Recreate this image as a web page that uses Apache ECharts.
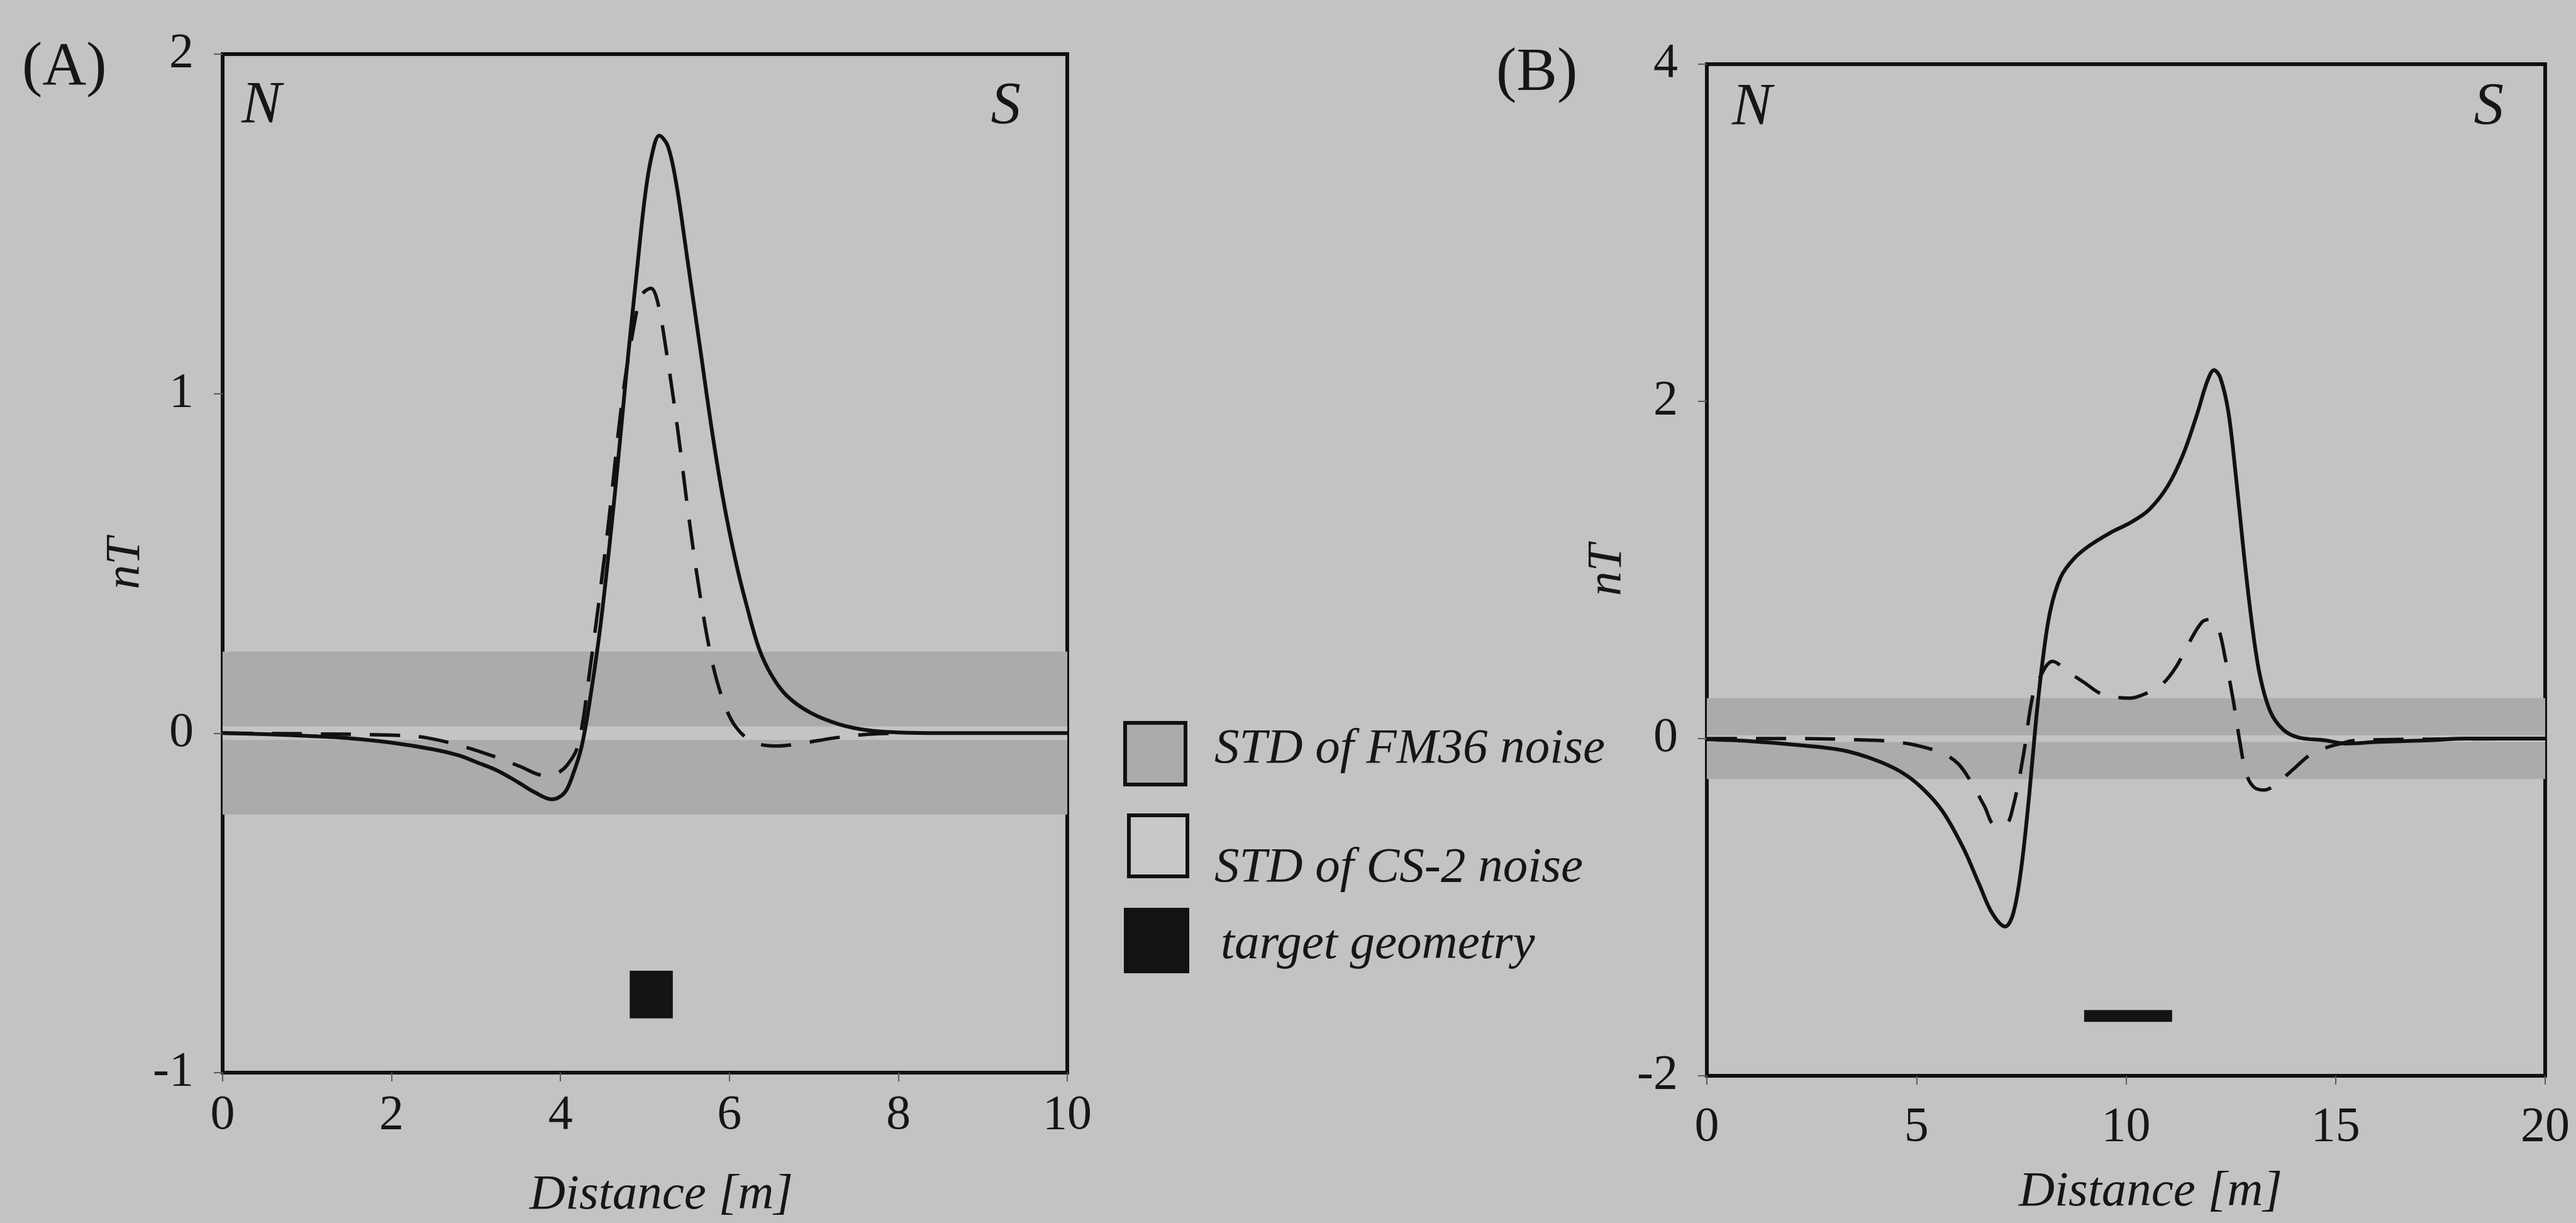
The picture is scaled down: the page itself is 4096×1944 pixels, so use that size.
<!DOCTYPE html>
<html>
<head>
<meta charset="utf-8">
<script src="https://cdn.jsdelivr.net/npm/echarts@6/dist/echarts.min.js"></script>
<style>
html, body { margin: 0; padding: 0; background: #c3c3c3; }
#chart { width: 4096px; height: 1944px; }
</style>
</head>
<body>
<div id="chart"></div>
<script>
// (A) 10 m profile - solid / dashed response
var aSolidX = [0, 0.5, 1.0, 1.5, 2.0, 2.5, 2.8, 3.0, 3.25, 3.5, 3.7, 3.9, 4.05, 4.15, 4.25, 4.35, 4.48, 4.65, 4.78, 4.9, 5.0, 5.08, 5.17, 5.27, 5.37, 5.5, 5.65, 5.8, 5.94, 6.08, 6.2, 6.35, 6.5, 6.68, 6.96, 7.3, 7.65, 8.0, 8.5, 10];
var aSolidY = [0, -0.003, -0.008, -0.015, -0.028, -0.048, -0.066, -0.085, -0.11, -0.145, -0.175, -0.195, -0.175, -0.12, -0.04, 0.1, 0.33, 0.72, 1.06, 1.35, 1.58, 1.7, 1.76, 1.73, 1.62, 1.4, 1.14, 0.88, 0.67, 0.5, 0.38, 0.25, 0.17, 0.11, 0.06, 0.026, 0.008, 0.002, 0, 0];
var aDashX = [0, 1, 2, 2.42, 2.9, 3.25, 3.52, 3.8, 3.94, 4.08, 4.21, 4.35, 4.56, 4.73, 4.87, 4.96, 5.07, 5.15, 5.25, 5.39, 5.52, 5.66, 5.8, 5.94, 6.08, 6.28, 6.56, 6.83, 7.25, 7.66, 8.0];
var aDashY = [0, -0.002, -0.006, -0.014, -0.043, -0.072, -0.098, -0.124, -0.12, -0.094, -0.034, 0.19, 0.6, 0.98, 1.2, 1.29, 1.31, 1.27, 1.13, 0.89, 0.635, 0.395, 0.206, 0.086, 0.017, -0.026, -0.038, -0.031, -0.014, -0.003, 0];

// (B) 20 m profile
var bSolidX = [0, 1, 2.25, 3.25, 4.0, 4.62, 5.12, 5.62, 6.12, 6.5, 6.81, 7.12, 7.31, 7.5, 7.69, 7.85, 8.0, 8.19, 8.44, 8.75, 9.12, 9.62, 10.12, 10.56, 11.0, 11.37, 11.69, 11.94, 12.1, 12.25, 12.44, 12.62, 12.81, 13.0, 13.19, 13.44, 13.75, 14.12, 14.75, 15.25, 16, 17.25, 18.1, 20];
var bSolidY = [-0.005, -0.015, -0.04, -0.07, -0.125, -0.196, -0.29, -0.43, -0.65, -0.866, -1.037, -1.115, -1.037, -0.77, -0.336, 0.1, 0.44, 0.754, 0.956, 1.065, 1.143, 1.22, 1.283, 1.36, 1.5, 1.69, 1.92, 2.12, 2.186, 2.14, 1.94, 1.56, 1.1, 0.69, 0.38, 0.162, 0.053, 0.006, -0.01, -0.03, -0.02, -0.01, 0, 0];
var bDashX = [0, 2, 4, 4.5, 5.0, 5.62, 6.0, 6.31, 6.62, 6.87, 7.12, 7.31, 7.56, 7.75, 7.9, 8.25, 8.62, 9.0, 9.37, 9.75, 10.1, 10.5, 10.87, 11.2, 11.5, 11.81, 12.0, 12.19, 12.37, 12.56, 12.72, 12.87, 13.06, 13.31, 13.62, 14.0, 14.37, 14.75, 15.12, 15.5, 20];
var bDashY = [0, 0, -0.01, -0.02, -0.04, -0.087, -0.15, -0.26, -0.4, -0.51, -0.51, -0.4, -0.087, 0.224, 0.34, 0.458, 0.395, 0.333, 0.27, 0.246, 0.24, 0.27, 0.324, 0.427, 0.567, 0.69, 0.707, 0.66, 0.473, 0.224, -0.025, -0.21, -0.29, -0.305, -0.26, -0.18, -0.1, -0.056, -0.03, -0.01, 0];

// noise levels (nT) and target extents [x0, x1, y0, y1]
var fm36Band = [-0.24, 0.24];
var cs2Band = [-0.02, 0.02];
var aTarget = [4.82, 5.33, -0.84, -0.70];
var bTarget = [9.0, 11.1, -1.68, -1.61];

var legendNames = ['STD of FM36 noise', 'STD of CS-2 noise', 'target geometry'];

var SERIF = '"Liberation Serif", "Times New Roman", serif';
var INK = '#161616';

function pairs(xs, ys) {
	return xs.map(function (x, i) { return [x, ys[i]]; });
}

function rectItem(params, api) {
	var p0 = api.coord([api.value(0), api.value(3)]);
	var p1 = api.coord([api.value(1), api.value(2)]);
	return {
		type: 'rect',
		shape: { x: p0[0], y: p0[1], width: p1[0] - p0[0], height: p1[1] - p0[1] },
		style: api.style()
	};
}

function xAxisOf(idx, max, step, margin, gap, shift) {
	return {
		type: 'value', gridIndex: idx, min: 0, max: max, interval: step,
		axisLine: { show: false, onZero: false },
		axisTick: { show: true, length: 14, lineStyle: { color: '#5a5a5a', width: 2 } },
		axisLabel: { margin: margin, fontSize: 78, fontFamily: SERIF, color: INK },
		splitLine: { show: false },
		name: 'Distance [m]', nameLocation: 'middle', nameGap: gap,
		nameTextStyle: { fontSize: 79, fontFamily: SERIF, fontStyle: 'italic', color: INK, padding: [0, 0, 0, shift] }
	};
}

function yAxisOf(idx, min, max, step, gap) {
	return {
		type: 'value', gridIndex: idx, min: min, max: max, interval: step,
		axisLine: { show: false, onZero: false },
		axisTick: { show: true, length: 14, lineStyle: { color: '#5a5a5a', width: 2 } },
		axisLabel: { margin: 46, fontSize: 78, fontFamily: SERIF, color: INK },
		splitLine: { show: false },
		name: 'nT', nameLocation: 'middle', nameGap: gap, nameRotate: 90,
		nameTextStyle: { fontSize: 78, fontFamily: SERIF, fontStyle: 'italic', color: INK }
	};
}

function bandSeries(idx, band, xmax, color) {
	return {
		type: 'custom', xAxisIndex: idx, yAxisIndex: idx, z: 1, silent: true, clip: true,
		itemStyle: { color: color },
		data: [[0, xmax, band[0], band[1]]],
		renderItem: rectItem
	};
}

function targetSeries(idx, t) {
	return {
		type: 'custom', xAxisIndex: idx, yAxisIndex: idx, z: 2, silent: true,
		itemStyle: { color: '#141414' },
		data: [t],
		renderItem: rectItem
	};
}

function lineSeries(idx, xs, ys, dashed) {
	return {
		type: 'line', xAxisIndex: idx, yAxisIndex: idx, z: dashed ? 3 : 4,
		showSymbol: false, symbol: 'none', silent: true,
		smooth: 0.35,
		lineStyle: { color: '#111', width: dashed ? 5.5 : 6, type: dashed ? [48, 30] : 'solid', cap: 'butt', join: 'round' },
		data: pairs(xs, ys)
	};
}

function label(text, x, y, size, italic, align) {
	return {
		type: 'text', x: x, y: y, silent: true,
		style: {
			text: text, fill: INK, fontSize: size, fontFamily: SERIF,
			fontStyle: italic ? 'italic' : 'normal',
			align: align || 'left', verticalAlign: 'middle'
		}
	};
}

function box(x, y, w, h, fill) {
	return {
		type: 'rect', silent: true,
		shape: { x: x, y: y, width: w, height: h },
		style: { fill: fill, stroke: '#111', lineWidth: 6 }
	};
}

var chart = echarts.init(document.getElementById('chart'), null, { renderer: 'canvas' });

chart.setOption({
	animation: false,
	backgroundColor: '#c3c3c3',
	grid: [
		{ left: 354, top: 86, width: 1343, height: 1619, show: true, borderColor: '#111', borderWidth: 6, backgroundColor: 'transparent', containLabel: false, outerBoundsMode: 'none' },
		{ left: 2714, top: 102, width: 1333, height: 1608, show: true, borderColor: '#111', borderWidth: 6, backgroundColor: 'transparent', containLabel: false, outerBoundsMode: 'none' }
	],
	xAxis: [
		xAxisOf(0, 10, 2, 30, 156, 52),
		xAxisOf(1, 20, 5, 44, 146, 78)
	],
	yAxis: [
		yAxisOf(0, -1, 2, 1, 109),
		yAxisOf(1, -2, 4, 2, 119)
	],
	series: [
		bandSeries(0, fm36Band, 10, '#ababab'),
		bandSeries(0, cs2Band, 10, '#c4c4c4'),
		targetSeries(0, aTarget),
		lineSeries(0, aDashX, aDashY, true),
		lineSeries(0, aSolidX, aSolidY, false),
		bandSeries(1, fm36Band, 20, '#ababab'),
		bandSeries(1, cs2Band, 20, '#c4c4c4'),
		targetSeries(1, bTarget),
		lineSeries(1, bDashX, bDashY, true),
		lineSeries(1, bSolidX, bSolidY, false)
	],
	graphic: [
		label('(A)', 35, 109, 97, false),
		label('(B)', 2379, 118, 97, false),
		label('N', 384, 170, 95, true),
		label('S', 1623, 171, 95, true, 'right'),
		label('N', 2754, 173, 95, true),
		label('S', 3981, 172, 95, true, 'right'),
		box(1789, 1149, 96, 98, '#ababab'),
		box(1795, 1296, 93, 97, '#c8c8c8'),
		box(1790, 1446, 98, 98, '#141414'),
		label(legendNames[0], 1931, 1191, 79, true),
		label(legendNames[1], 1931, 1380, 79, true),
		label(legendNames[2], 1941, 1502, 79, true)
	]
});
</script>
</body>
</html>
